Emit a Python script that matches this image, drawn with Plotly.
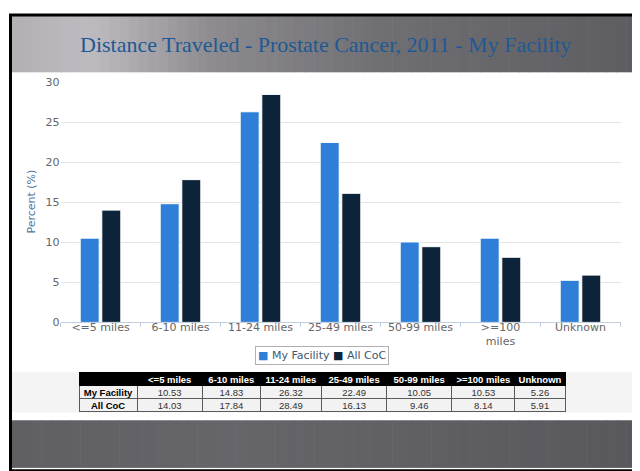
import plotly.graph_objects as go

# ---- data ----
categories = ["<=5 miles", "6-10 miles", "11-24 miles", "25-49 miles",
              "50-99 miles", ">=100 miles", "Unknown"]
tick_labels = ["<=5 miles", "6-10 miles", "11-24 miles", "25-49 miles",
               "50-99 miles", ">=100<br>miles", "Unknown"]
my_facility = [10.53, 14.83, 26.32, 22.49, 10.05, 10.53, 5.26]
all_coc = [14.03, 17.84, 28.49, 16.13, 9.46, 8.14, 5.91]
series_names = ["My Facility", "All CoC"]
series_colors = ["#2f7ed8", "#0d233a"]
title_text = "Distance Traveled - Prostate Cancer, 2011 - My Facility"

# the page body has an 8px margin; build the figure in page pixel coords
OFF = 8
W, H = 640 - OFF, 471 - OFF

def px_x(x):
    return (x - OFF) / W

def px_y(y):
    return 1 - (y - OFF) / H

def hex2rgb(h):
    h = h.lstrip("#")
    return tuple(int(h[i:i + 2], 16) for i in (0, 2, 4))

def interp(stops, t):
    for (t0, c0), (t1, c1) in zip(stops, stops[1:]):
        if t0 <= t <= t1:
            f = (t - t0) / (t1 - t0) if t1 > t0 else 0
            a, b = hex2rgb(c0), hex2rgb(c1)
            return "rgb(%d,%d,%d)" % tuple(round(a[i] + (b[i] - a[i]) * f) for i in range(3))
    return stops[-1][1]

fig = go.Figure()

fig.add_trace(go.Bar(
    x=categories, y=my_facility, name=series_names[0],
    marker=dict(color=series_colors[0], line=dict(color="#ffffff", width=1)),
))
fig.add_trace(go.Bar(
    x=categories, y=all_coc, name=series_names[1],
    marker=dict(color=series_colors[1], line=dict(color="#ffffff", width=1)),
))

# ---- data table below the chart ----
# Plain text only (no spaces / markup characters in the values) so plotly keeps
# the compact row height; a leading '<' or '>' is supplied via the column prefix.
NB = "\u00a0"
head_prefix = [""]
head_vals = [""]
for c in categories:
    if c[0] in "<>":
        head_prefix.append(c[0])
        head_vals.append(c[1:].replace(" ", NB))
    else:
        head_prefix.append("")
        head_vals.append(c.replace(" ", NB))
cell_vals = [[s.replace(" ", NB) for s in series_names]] + \
    [["%.2f" % my_facility[i], "%.2f" % all_coc[i]] for i in range(len(categories))]
ncol = len(categories) + 1
col_w = [58, 65, 58, 61, 65, 65, 63, 50]
ROW_H = 13
TAB_TOP, TAB_BOT = 377, 416
TEXT_SHIFT = 5   # plotly pads cell text 8px from the top; lift it to centre in 13px rows

# grid (fills and borders)
fig.add_trace(go.Table(
    domain=dict(x=[px_x(79), px_x(565)], y=[px_y(TAB_BOT + 3), px_y(TAB_TOP)]),
    columnwidth=col_w,
    header=dict(values=[""] * ncol, fill_color="#000000",
                line=dict(color="#000000", width=1), height=ROW_H),
    cells=dict(values=[["", ""]] * ncol, fill_color="#f2f2f2",
               line=dict(color="#5a5a5a", width=1), height=ROW_H),
))
# text layer
fig.add_trace(go.Table(
    domain=dict(x=[px_x(79), px_x(565)], y=[px_y(TAB_BOT + 4), px_y(TAB_TOP - TEXT_SHIFT)]),
    columnwidth=col_w,
    header=dict(values=head_vals, prefix=head_prefix,
                fill_color="rgba(0,0,0,0)", line=dict(color="rgba(0,0,0,0)", width=0),
                font=dict(family="Liberation Sans, Arial", size=9.5, color="#ffffff",
                          weight="bold"),
                align="center", height=ROW_H),
    cells=dict(values=cell_vals, fill_color="rgba(0,0,0,0)",
               line=dict(color="rgba(0,0,0,0)", width=0),
               font=dict(family="Liberation Sans, Arial", size=9.5,
                         color=["#000000"] + ["#333333"] * (ncol - 1),
                         weight=["bold"] + ["normal"] * (ncol - 1)),
               align="center", height=ROW_H),
))

shapes = []
# header gradient strips
hdr_stops = [(0, "#b3b1b6"), (0.12, "#bdbbc0"), (0.32, "#8d8b90"),
             (0.6, "#6f6e73"), (1, "#5e5d62")]
n = 64
x0, x1 = 12, 636
for i in range(n):
    a = x0 + (x1 - x0) * i / n
    b = x0 + (x1 - x0) * (i + 1) / n + 0.6
    shapes.append(dict(type="rect", xref="paper", yref="paper", layer="below",
                       x0=px_x(a), x1=px_x(b), y0=px_y(68), y1=px_y(10),
                       line=dict(width=0), fillcolor=interp(hdr_stops, i / (n - 1))))
# bottom gradient strips
bot_stops = [(0, "#605f64"), (0.35, "#66656a"), (1, "#59585d")]
for i in range(n):
    a = x0 + (x1 - x0) * i / n
    b = x0 + (x1 - x0) * (i + 1) / n + 0.6
    shapes.append(dict(type="rect", xref="paper", yref="paper", layer="below",
                       x0=px_x(a), x1=px_x(b), y0=px_y(475), y1=px_y(426),
                       line=dict(width=0), fillcolor=interp(bot_stops, i / (n - 1))))
# light panel behind table
shapes.append(dict(type="rect", xref="paper", yref="paper", layer="below",
                   x0=px_x(12), x1=px_x(634), y0=px_y(418), y1=px_y(376),
                   line=dict(width=0), fillcolor="#f4f4f4"))
# slide frame
shapes.append(dict(type="rect", xref="paper", yref="paper", layer="above",
                   x0=px_x(10.5), x1=px_x(637.5), y0=px_y(478), y1=px_y(9),
                   line=dict(color="#000000", width=3), fillcolor="rgba(0,0,0,0)"))

legend_text = " ".join(
    "<span style='color:%s'>\u25a0</span> %s" % (c, s)
    for s, c in zip(series_names, series_colors))

annotations = [
    dict(text=title_text, xref="paper", yref="paper", x=px_x(325), y=px_y(39),
         xanchor="center", yanchor="middle", showarrow=False,
         font=dict(family="Liberation Serif, DejaVu Serif", size=22, color="#1d5a94")),
    dict(text="Percent (%)", xref="paper", yref="paper", x=px_x(32), y=px_y(201),
         xanchor="center", yanchor="middle", showarrow=False, textangle=-90,
         font=dict(family="DejaVu Sans", size=11, color="#4d759e")),
    dict(text=legend_text, xref="paper", yref="paper", x=px_x(321.5), y=px_y(359.5),
         xanchor="center", yanchor="middle", showarrow=False,
         bordercolor="#b0b0b0", borderwidth=1, borderpad=2, bgcolor="#ffffff",
         font=dict(family="DejaVu Sans", size=11, color="#3e576f")),
]

fig.update_layout(
    width=W, height=H,
    margin=dict(l=0, r=0, t=0, b=0),
    paper_bgcolor="#ffffff", plot_bgcolor="rgba(0,0,0,0)",
    barmode="group", bargap=0.46, bargroupgap=0.12,
    shapes=shapes, annotations=annotations,
    showlegend=False,
    xaxis=dict(domain=[px_x(60.5), px_x(620.5)], type="category",
               tickmode="array", tickvals=categories, ticktext=tick_labels,
               showline=True, linecolor="#c0d0e0", linewidth=1,
               ticks="outside", tickson="boundaries", ticklen=4, tickcolor="#c0d0e0",
               showgrid=False, ticklabelstandoff=-6,
               tickfont=dict(family="DejaVu Sans", size=11, color="#666666"),
               fixedrange=True),
    yaxis=dict(domain=[px_y(325.3), px_y(78.3)], range=[0, 30], dtick=5,
               showgrid=True, gridcolor="#e4e4e4", gridwidth=1,
               zeroline=False, showline=False,
               tickfont=dict(family="DejaVu Sans", size=11, color="#666666"),
               fixedrange=True),
)

fig.write_html("out.html")
